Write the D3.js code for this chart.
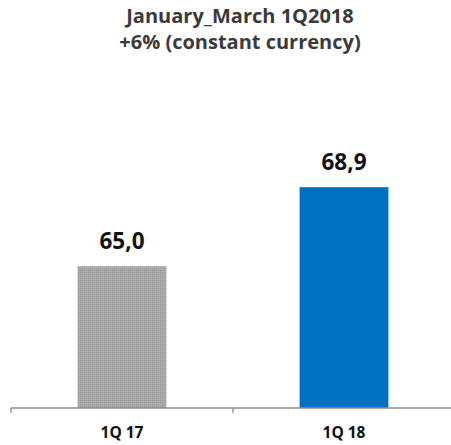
<!DOCTYPE html>
<html>
<head>
<meta charset="utf-8">
<script src="https://cdn.jsdelivr.net/npm/d3@7/dist/d3.min.js"></script>
<style>
  html, body { margin: 0; padding: 0; background: #fff; }
  svg { display: block; font-family: "Open Sans", sans-serif; }
</style>
</head>
<body>
<svg id="chart" width="451" height="445"></svg>
<script>
const categories = ["1Q 17", "1Q 18"];
const values = [65.0, 68.9];
const valueLabels = ["65,0", "68,9"];
const titleLines = ["January_March 1Q2018", "+6% (constant currency)"];

const svg = d3.select("#chart");
const W = 451, H = 445;
const baseY = 408;

// dotted grey fill for the prior-year bar
const defs = svg.append("defs");
const pat = defs.append("pattern")
  .attr("id", "dots")
  .attr("width", 2).attr("height", 2)
  .attr("patternUnits", "userSpaceOnUse");
pat.append("rect").attr("width", 2).attr("height", 2).attr("fill", "#a9a9a9");
pat.append("rect").attr("width", 1).attr("height", 1).attr("fill", "#979797");
pat.append("rect").attr("x", 1).attr("y", 1).attr("width", 1).attr("height", 1).attr("fill", "#b4b4b4");

const x = d3.scaleBand().domain(categories).range([11, 455]).paddingInner(0.6).paddingOuter(0.3);
const y = d3.scaleLinear().domain([58, 75]).range([baseY, baseY - 17 * 20.26]);

const colors = ["url(#dots)", "#0070C0"];

svg.selectAll("rect.bar")
  .data(values)
  .join("rect")
  .attr("class", "bar")
  .attr("x", (d, i) => x(categories[i]))
  .attr("width", x.bandwidth())
  .attr("y", d => y(d))
  .attr("height", d => baseY - y(d))
  .attr("fill", (d, i) => colors[i]);

// value labels above the bars
svg.selectAll("text.val")
  .data(values)
  .join("text")
  .attr("class", "val")
  .attr("x", (d, i) => x(categories[i]) + x.bandwidth() / 2)
  .attr("y", d => y(d) - 17)
  .attr("text-anchor", "middle")
  .attr("font-size", 22.5)
  .attr("font-weight", "bold")
  .attr("fill", "#111")
  .text((d, i) => valueLabels[i]);

// category axis with ticks between groups
const axisG = svg.append("g").attr("transform", `translate(0,${baseY})`);
const edges = [11, 11 + (455 - 11) / 2, 455];
axisG.append("line")
  .attr("x1", 11).attr("x2", W).attr("y1", 0).attr("y2", 0)
  .attr("stroke", "#8c8c8c").attr("stroke-width", 1.3);
axisG.selectAll("line.tick")
  .data(edges)
  .join("line")
  .attr("class", "tick")
  .attr("x1", d => d).attr("x2", d => d)
  .attr("y1", 0).attr("y2", 5)
  .attr("stroke", "#8c8c8c").attr("stroke-width", 1.3);

svg.selectAll("text.cat")
  .data(categories)
  .join("text")
  .attr("class", "cat")
  .attr("x", d => x(d) + x.bandwidth() / 2)
  .attr("y", 438)
  .attr("text-anchor", "middle")
  .attr("font-size", 15.5)
  .attr("font-weight", "bold")
  .attr("fill", "#111")
  .text(d => d);

// two-line title
svg.selectAll("text.title")
  .data(titleLines)
  .join("text")
  .attr("class", "title")
  .attr("x", 240)
  .attr("y", (d, i) => 23 + i * 26)
  .attr("text-anchor", "middle")
  .attr("font-size", 20)
  .attr("font-weight", "bold")
  .attr("fill", "#3a3a3a")
  .text(d => d);
</script>
</body>
</html>
